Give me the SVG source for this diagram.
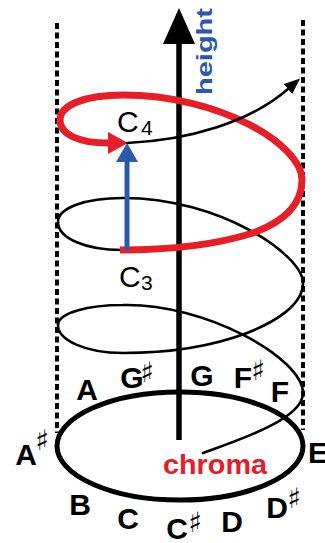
<svg xmlns="http://www.w3.org/2000/svg" width="325" height="543" viewBox="0 0 325 543">
<style>
.dash{stroke:#000;stroke-width:4;stroke-dasharray:6 3.5;fill:none}
.blk{stroke:#000;stroke-width:2.6;fill:none;stroke-linecap:round}
.red{stroke:#e3202a;stroke-width:7;fill:none}
.note{font-family:"Liberation Sans",Arial,sans-serif;font-weight:bold;font-size:30px;fill:#000;text-anchor:middle}
.sh{font-family:"DejaVu Sans",sans-serif;font-weight:normal;font-size:28px}
.lab{font-family:"Liberation Sans",Arial,sans-serif;font-size:30px;fill:#000}
</style>
<defs>
<marker id="mAxis" markerUnits="userSpaceOnUse" markerWidth="36" markerHeight="32" refX="0" refY="16" orient="auto"><path d="M0,0 L36,16 L0,32 z" fill="#000"/></marker>
<marker id="mBlue" markerUnits="userSpaceOnUse" markerWidth="19" markerHeight="22" refX="0" refY="11" orient="auto"><path d="M0,0 L19,11 L0,22 z" fill="#2c5aa8"/></marker>
<marker id="mRed" markerUnits="userSpaceOnUse" markerWidth="20" markerHeight="22" refX="0" refY="11" orient="auto"><path d="M0,0 L20,11 L0,22 z" fill="#e3202a"/></marker>
<marker id="mBlk" markerUnits="userSpaceOnUse" markerWidth="16" markerHeight="13" refX="0" refY="6.5" orient="auto"><path d="M0,0 L16,6.5 L0,13 z" fill="#000"/></marker>
</defs>
<g id="cylinder">
<line class="dash" x1="57" y1="23" x2="57" y2="433"/>
<line class="dash" x1="303" y1="20" x2="303" y2="430"/>
</g>
<g id="chroma-circle">
<ellipse cx="180" cy="446" rx="123" ry="54" fill="none" stroke="#000" stroke-width="5"/>
</g>
<g id="connectors">
<line id="height-axis" x1="179" y1="440" x2="179" y2="44" stroke="#000" stroke-width="5.5" marker-end="url(#mAxis)"/>
<path id="helix-lower" class="blk" d="M203,453 C245,438 303,418 303,393 C303,358 205,303 123,305 C88,305 58,313 58,325 C58,340 85,353 123,353 C165,353 210,347 247,333 C275,322 303,305 303,283 C303,255 220,198 123,198 C85,198 58,208 58,222 C58,238 85,250 122,250"/>
<path id="octave" class="red" d="M120,250 C165,250 215,245 253,233 C283,222 302,205 302,180 C302,145 220,95 123,95 C85,95 60,105 60,120 C60,135 80,143 108,143" marker-end="url(#mRed)"/>
<path id="helix-upper" class="blk" d="M127,143 C190,140 250,122 288,89" marker-end="url(#mBlk)"/>
<line id="octave-jump" x1="127" y1="250" x2="127" y2="162" stroke="#2c5aa8" stroke-width="5" marker-end="url(#mBlue)"/>
</g>
<g id="axis-labels">
<text id="height" transform="translate(212,95) rotate(-90)" x="0" y="0" font-family="Liberation Sans, Arial, sans-serif" font-weight="bold" font-size="22" fill="#2c5aa8" textLength="87" lengthAdjust="spacingAndGlyphs">height</text>
<text id="chroma" x="163" y="474" font-family="Liberation Sans, Arial, sans-serif" font-weight="bold" font-size="28" fill="#e3202a" textLength="104" lengthAdjust="spacingAndGlyphs">chroma</text>
</g>
<g id="pitch-labels">
<text class="lab" x="117" y="132">C<tspan x="141" y="135" font-size="21">4</tspan></text>
<text class="lab" x="119" y="287">C<tspan x="141" y="290" font-size="21">3</tspan></text>
</g>
<g id="notes">
<text class="note" x="87" y="400">A</text>
<text class="note" x="132" y="388">G<tspan class="sh" x="147" y="382">♯</tspan></text>
<text class="note" x="202" y="386">G</text>
<text class="note" x="243" y="388">F<tspan class="sh" x="258" y="380">♯</tspan></text>
<text class="note" x="280" y="402">F</text>
<text class="note" x="318" y="463">E</text>
<text class="note" x="277" y="518">D<tspan class="sh" x="294" y="508">♯</tspan></text>
<text class="note" x="232" y="532">D</text>
<text class="note" x="177" y="539">C<tspan class="sh" x="195" y="532">♯</tspan></text>
<text class="note" x="128" y="529">C</text>
<text class="note" x="80" y="515">B</text>
<text class="note" x="26" y="465">A<tspan class="sh" x="42" y="450">♯</tspan></text>
</g>
</svg>
